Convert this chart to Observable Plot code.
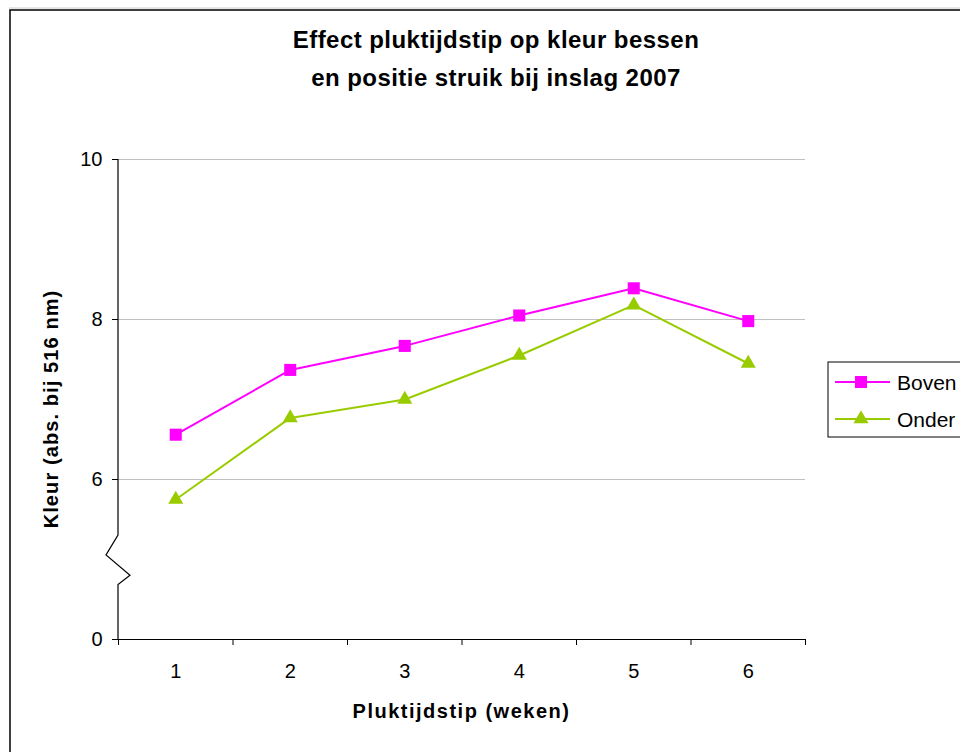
<!DOCTYPE html>
<html>
<head>
<meta charset="utf-8">
<script src="https://cdn.jsdelivr.net/npm/d3@7"></script>
<script src="https://cdn.jsdelivr.net/npm/@observablehq/plot@0.6"></script>
<style>
  html, body { margin: 0; padding: 0; background: white; }
  svg { display: block; }
</style>
</head>
<body>
<div id="chart"></div>
<script>
// ---- data ----
const weeks = [1, 2, 3, 4, 5, 6];
const boven = [6.56, 7.37, 7.67, 8.05, 8.39, 7.98];
const onder = [5.75, 6.77, 7.00, 7.55, 8.18, 7.45];
const seriesNames = ["Boven", "Onder"];
const seriesColors = ["#ff00ff", "#99cc00"];
const seriesSymbols = ["square", "triangle"];
const yTicks = [4, 6, 8, 10];
const yTickLabels = ["0", "6", "8", "10"];
const gridTicks = [6, 8, 10];
const xBoundaries = [0.5, 1.5, 2.5, 3.5, 4.5, 5.5, 6.5];
const breakRange = [4.68, 5.3]; // axis break (between 0 and 6)
const titleLines = ["Effect pluktijdstip op kleur bessen", "en positie struik bij inslag 2007"];
const xLabel = "Pluktijdstip (weken)";
const yLabel = "Kleur (abs. bij 516 nm)";

const rows = [];
weeks.forEach((w, i) => {
  rows.push({ week: w, value: boven[i], series: seriesNames[0] });
  rows.push({ week: w, value: onder[i], series: seriesNames[1] });
});

const font = "'Liberation Sans', Arial, Helvetica, sans-serif";

const chart = Plot.plot({
  width: 960,
  height: 752,
  marginLeft: 118,
  marginRight: 155,
  marginTop: 159,
  marginBottom: 113,
  style: { fontFamily: font, fontSize: "20px", background: "white", color: "black", overflow: "hidden" },
  x: { type: "linear", domain: [0.5, 6.5] },
  y: { domain: [4, 10] },
  color: { domain: seriesNames, range: seriesColors },
  symbol: { domain: seriesNames, range: seriesSymbols },
  marks: [
    Plot.gridY(gridTicks, { stroke: "#c0c0c0", strokeOpacity: 1, strokeWidth: 1 }),
    Plot.axisY(yTicks, {
      tickFormat: d => yTickLabels[yTicks.indexOf(d)],
      tickSize: 6, tickPadding: 10, fontSize: 20, label: null, color: "black"
    }),
    Plot.axisX(xBoundaries, { tickFormat: () => "", tickSize: 6, label: null, color: "black" }),
    Plot.axisX(weeks, { tickFormat: d => String(d), tickSize: 0, tickPadding: 24, fontSize: 20, label: null, color: "black" }),
    Plot.line(rows, { x: "week", y: "value", z: "series", stroke: "series", strokeWidth: 2 }),
    Plot.dot(rows.filter(d => d.series === "Boven"), { x: "week", y: "value", symbol: "series", fill: "series", r: 6.8, stroke: null }),
    Plot.dot(rows.filter(d => d.series === "Onder"), { x: "week", y: "value", symbol: "series", fill: "series", r: 5.6, stroke: null })
  ]
});

document.getElementById("chart").appendChild(chart);

const svg = d3.select(chart);
const ys = chart.scale("y");
const xs = chart.scale("x");
const y = v => ys.apply(v);
const x = v => xs.apply(v);
const x0 = x(0.5), x1 = x(6.5);

function txt(sel, size, weight, anchor, spacing) {
  return sel.style("font-family", font).style("font-size", size + "px")
    .style("font-weight", weight).style("text-anchor", anchor).style("fill", "black")
    .style("letter-spacing", (spacing || 0) + "px");
}

// axis lines
const g = svg.append("g").attr("stroke", "black").attr("fill", "none");
g.append("line").attr("x1", x0).attr("x2", x1).attr("y1", y(4) + 0.5).attr("y2", y(4) + 0.5).attr("stroke-width", 1.2);
const bl = y(breakRange[0]), bh = y(breakRange[1]);
const span = bl - bh;
g.append("path")
  .attr("stroke-width", 1.2)
  .attr("d", `M${x0},${y(4)} L${x0},${bl} L${x0 + 12},${bl - span * 0.19} L${x0 - 12},${bl - span * 0.6} L${x0},${bh} L${x0},${y(10)}`);

// outer frame
svg.append("line").attr("x1", 9).attr("x2", 960).attr("y1", 8).attr("y2", 8).attr("stroke", "#cccccc");
svg.append("rect").attr("x", 10).attr("y", 10).attr("width", 1200).attr("height", 1200)
  .attr("fill", "none").attr("stroke", "black").attr("stroke-width", 1.5);

// title
const title = txt(svg.append("text"), 24, "bold", "middle", 0.45);
titleLines.forEach((t, i) => title.append("tspan").attr("x", 496).attr("y", 48 + i * 38).text(t));

// axis labels
txt(svg.append("text"), 20, "bold", "middle", 1.5).attr("x", (x0 + x1) / 2).attr("y", 718).text(xLabel);
txt(svg.append("text"), 20, "bold", "middle", 1.1).attr("transform", `translate(58,409) rotate(-90)`).text(yLabel);

// legend
const lg = svg.append("g");
lg.append("rect").attr("x", 828).attr("y", 362).attr("width", 300).attr("height", 75)
  .attr("fill", "white").attr("stroke", "black").attr("stroke-width", 1);
const symSizes = [6.8, 5.6];
seriesNames.forEach((name, i) => {
  const ly = 382 + i * 37;
  lg.append("line").attr("x1", 835).attr("x2", 890).attr("y1", ly).attr("y2", ly)
    .attr("stroke", seriesColors[i]).attr("stroke-width", 2);
  const sym = i === 0 ? d3.symbolSquare : d3.symbolTriangle;
  lg.append("path").attr("transform", `translate(861,${ly})`)
    .attr("d", d3.symbol(sym, symSizes[i] * symSizes[i] * Math.PI)())
    .attr("fill", seriesColors[i]);
  txt(lg.append("text"), 21, "normal", "start").attr("x", 897).attr("y", ly + 7.5).text(name);
});
</script>
</body>
</html>
